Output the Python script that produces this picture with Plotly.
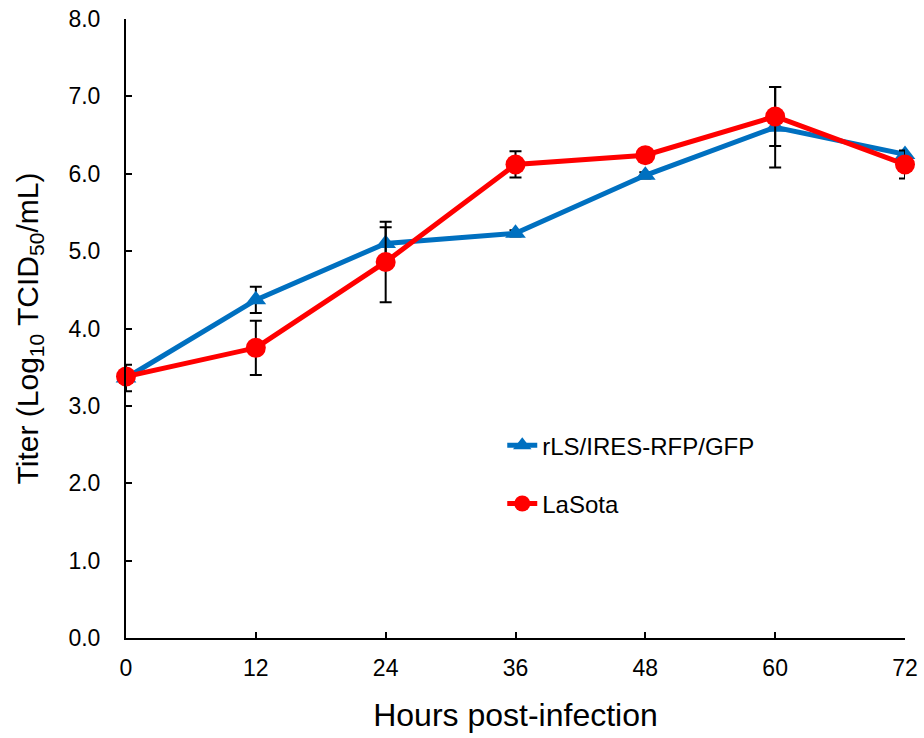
import plotly.graph_objects as go

hours = [0, 12, 24, 36, 48, 60, 72]
rls_titer = [3.36, 4.37, 5.10, 5.23, 5.98, 6.60, 6.25]
rls_err = [0.17, 0.17, 0.21, 0.04, 0.04, 0.52, 0.04]
lasota_titer = [3.38, 3.75, 4.86, 6.12, 6.24, 6.74, 6.12]
lasota_err = [0.04, 0.35, 0.52, 0.17, 0.04, 0.38, 0.18]
x_ticks = [0, 12, 24, 36, 48, 60, 72]
y_ticks = [0, 1, 2, 3, 4, 5, 6, 7, 8]

FONT = "Liberation Sans, Arial, sans-serif"

fig = go.Figure()
fig.add_trace(go.Scatter(
    x=hours, y=rls_titer, name="rLS/IRES-RFP/GFP", legendgroup="a",
    mode="lines+markers",
    line=dict(color="#0070C0", width=5),
    marker=dict(symbol="triangle-up", size=18, color="#0070C0"),
    error_y=dict(type="data", array=rls_err, visible=True, color="black",
                 thickness=2, width=6),
    cliponaxis=False,
))
fig.add_trace(go.Scatter(
    x=hours, y=lasota_titer, name="LaSota", legendgroup="b",
    mode="lines+markers",
    line=dict(color="#FF0000", width=5),
    marker=dict(symbol="circle", size=20, color="#FF0000"),
    error_y=dict(type="data", array=lasota_err, visible=True, color="black",
                 thickness=2, width=6),
    cliponaxis=False,
))

fig.update_layout(
    width=924, height=738,
    paper_bgcolor="white", plot_bgcolor="white",
    margin=dict(l=126, r=19, t=19, b=100),
    font=dict(family=FONT, color="black", size=23),
    showlegend=True,
    legend=dict(
        x=0.483, y=0.347, xanchor="left", yanchor="top",
        font=dict(family=FONT, size=24, color="black"),
        traceorder="grouped", tracegroupgap=24,
        bgcolor="rgba(0,0,0,0)", itemwidth=30,
    ),
    xaxis=dict(
        range=[0, 72], tickvals=x_ticks, ticktext=[str(v) for v in x_ticks],
        showline=True, linecolor="black", linewidth=2,
        ticks="inside", ticklen=6, tickwidth=2, tickcolor="black",
        showgrid=False, zeroline=False, automargin=False,
        ticklabeloverflow="allow",
        tickfont=dict(size=23), ticklabelstandoff=8,
        title=dict(text="Hours post-infection", font=dict(size=32), standoff=24),
    ),
    yaxis=dict(
        range=[0, 8], tickvals=y_ticks, ticktext=[f"{v:.1f}" for v in y_ticks],
        showline=True, linecolor="black", linewidth=2,
        ticks="inside", ticklen=6, tickwidth=2, tickcolor="black",
        showgrid=False, zeroline=False, automargin=False,
        ticklabeloverflow="allow",
        tickfont=dict(size=23), ticklabelstandoff=19,
        title=dict(text="Titer (Log<sub>10</sub> TCID<sub>50</sub>/mL)",
                   font=dict(size=30), standoff=21),
    ),
)

fig.write_html(
    "out.html",
    config={"displayModeBar": False},
    post_script="document.body.style.margin='0';document.body.style.overflow='hidden';",
)
